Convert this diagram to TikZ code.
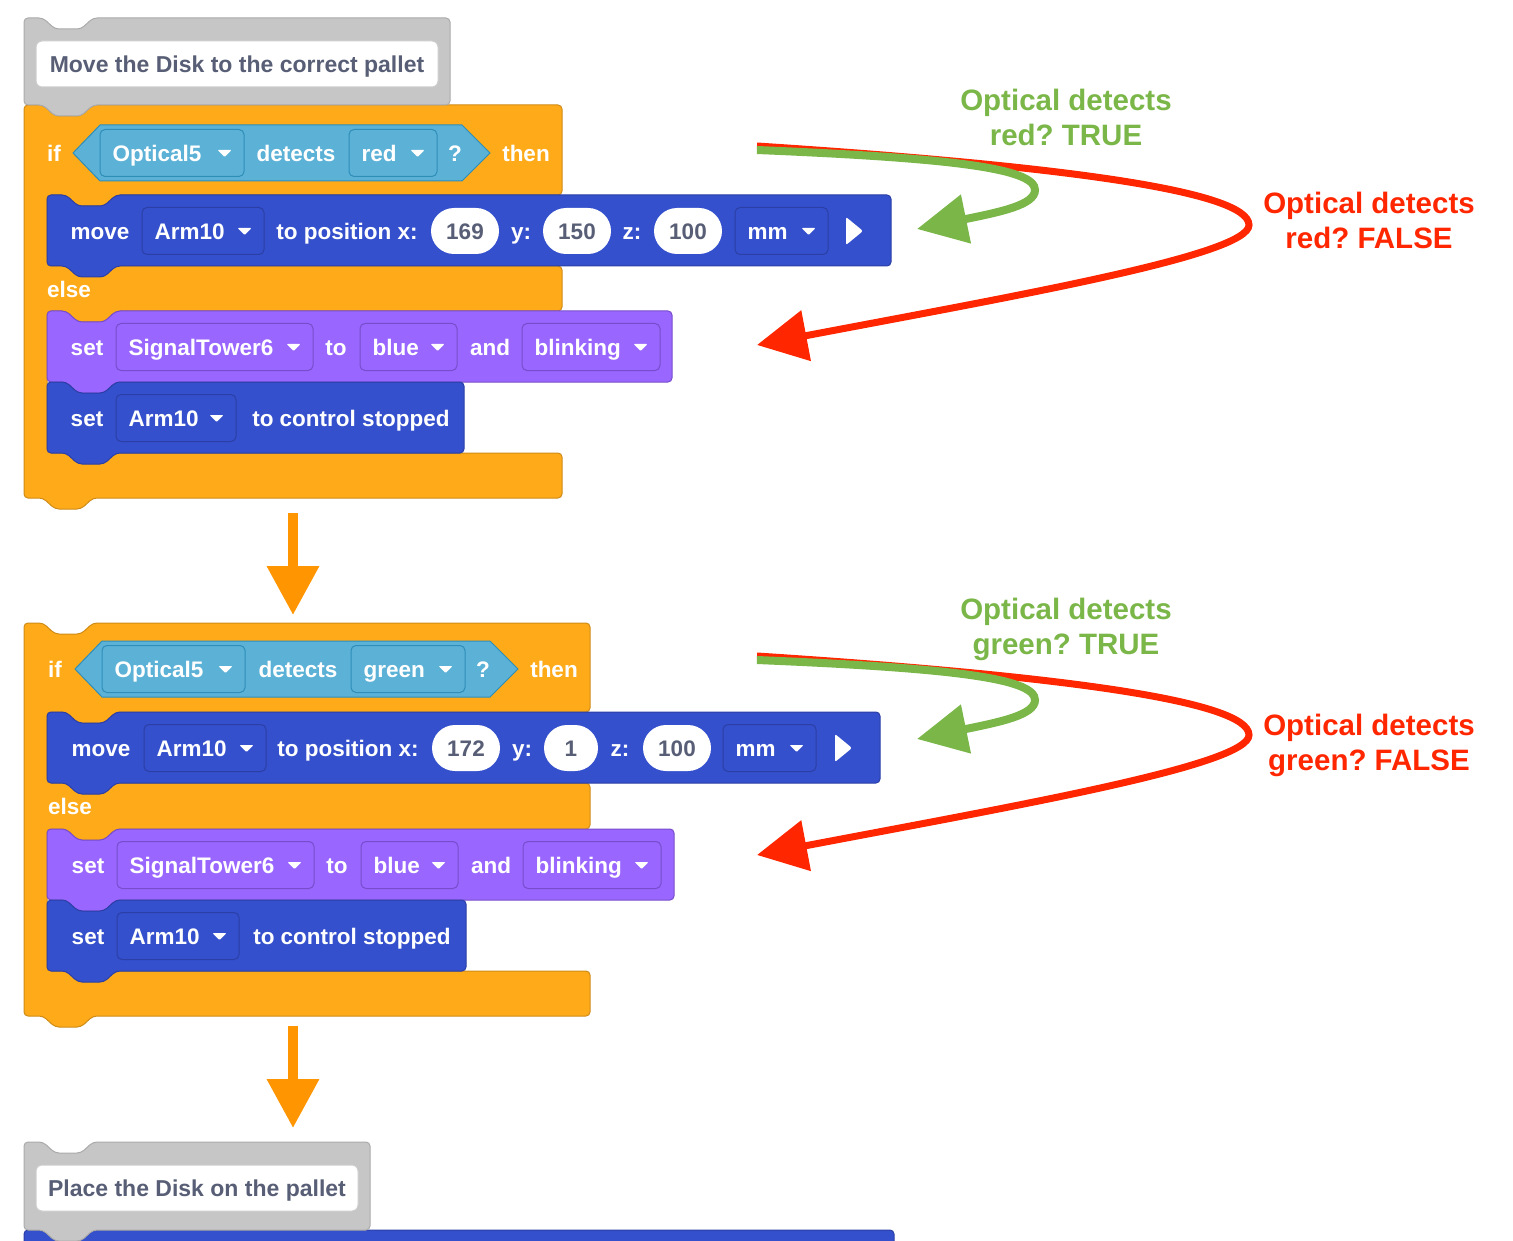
\documentclass[tikz,border=0pt]{standalone}
\usepackage{fontspec}
\setmainfont{Liberation Sans}
\usepackage{tikz}
\usetikzlibrary{arrows.meta}
\frenchspacing

\definecolor{ctrlorange}{HTML}{FFAB19}
\definecolor{ctrledge}{HTML}{CF8B17}
\definecolor{armblue}{HTML}{3450CC}
\definecolor{armedge}{HTML}{2B3FA6}
\definecolor{lookpurple}{HTML}{9966FF}
\definecolor{lookedge}{HTML}{774DCB}
\definecolor{sensecyan}{HTML}{5CB1D6}
\definecolor{senseedge}{HTML}{2E8EB8}
\definecolor{commentgray}{HTML}{C6C6C6}
\definecolor{commentedge}{HTML}{ABABAB}
\definecolor{labelgray}{HTML}{575E75}
\definecolor{flowcolor}{HTML}{FF9500}
\definecolor{truegreen}{HTML}{7AB648}
\definecolor{falsered}{HTML}{FF2600}

\newcommand{\blockfont}{\fontsize{22.5}{27}\selectfont\bfseries}
\newcommand{\labelfont}{\fontsize{23}{27}\selectfont\bfseries}
\newcommand{\notefont}{\fontsize{29.5}{35}\selectfont\bfseries}

% stack block: [colours]{left}{top}{right}{bottom}
\newcommand{\stackblock}[5][]{%
	\draw[block,#1] (#2,#3) -- ++(19,0) -- ++(12,11) -- ++(26,0) -- ++(12,-11) -- (#4,#3) -- (#4,#5) -- ({#2+69},#5) -- ++(-12,11) -- ++(-26,0) -- ++(-12,-11) -- (#2,#5) -- cycle;}

% if/else block: {top}{right}{then}{else top}{else bottom}{foot}{bottom}
\newcommand{\ifelseblock}[7]{%
	\draw[block,ctrl] (24,#1) -- ++(19,0) -- ++(12,11) -- ++(26,0) -- ++(12,-11) -- (#2,#1) -- (#2,#3) -- (116,#3) -- ++(-12,11) -- ++(-26,0) -- ++(-12,-11) -- (47,#3) -- (47,#4) -- (#2,#4) -- (#2,#5) -- (116,#5) -- ++(-12,11) -- ++(-26,0) -- ++(-12,-11) -- (47,#5) -- (47,#6) -- (#2,#6) -- (#2,#7) -- (93,#7) -- ++(-12,11) -- ++(-26,0) -- ++(-12,-11) -- (24,#7) -- cycle;}

% dropdown: [colours]{name}{left}{right}{y}{text}
\newcommand{\dropdown}[6][]{%
	\node[menu,#1,minimum width={#4-#3}] (#2) at ({(#3+#4)/2},#5) {};
	\node[word,anchor=west] (#2txt) at ([xshift=13pt]#2.west) {#6};
	\fill[white,rounded corners=1pt] ([xshift=-27pt,yshift=3pt]#2.east) -- ++(14,0) -- ++(-7,7) -- cycle;}

\begin{document}
\begin{tikzpicture}[x=1pt,y=-1pt,
		block/.style={rounded corners=4pt,line width=1pt},
		ctrl/.style={fill=ctrlorange,draw=ctrledge},
		arm/.style={fill=armblue,draw=armedge},
		look/.style={fill=lookpurple,draw=lookedge},
		sense/.style={fill=sensecyan,draw=senseedge,line width=1pt},
		note/.style={fill=commentgray,draw=commentedge},
		word/.style={text=white,font=\blockfont,inner sep=0pt,text height=16.4pt,text depth=0pt},
		menu/.style={rounded corners=5pt,line width=1pt,minimum height=47pt,inner sep=0pt},
		numbox/.style={word,fill=white,text=labelgray,rounded corners=23pt,minimum height=46pt},
		labelbox/.style={fill=white,draw=commentedge!60,line width=1pt,rounded corners=6pt,minimum height=46pt,inner sep=0pt,text=labelgray,font=\labelfont,text height=16.8pt,text depth=0pt},
		play/.style={fill=white,rounded corners=2pt},
		flow/.style={draw=flowcolor,line width=10pt,-{Triangle[length=49pt,width=50pt]}},
		truearrow/.style={draw=truegreen,line width=8pt,-{Triangle[length=50pt,width=48pt]}},
		falsearrow/.style={draw=falsered,line width=7pt,-{Triangle[length=50pt,width=50pt]}},
		truenote/.style={text=truegreen,font=\notefont,align=center,inner sep=0pt},
		falsenote/.style={text=falsered,font=\notefont,align=center,inner sep=0pt}]
	\useasboundingbox (0,0) rectangle (1513,1241);
	
	% first if/else (red)
	\ifelseblock{105}{562}{195}{266}{311}{453}{498}
	\stackblock[note]{24}{18}{450}{105}
	\node[labelbox,minimum width=402] (titleA) at (237,64) {Move the Disk to the correct pallet};
	\draw[sense] (73,153) -- (100,125) -- (462,125) -- (490,153) -- (462,181) -- (100,181) -- cycle;
	\node[word] (ifA) at (54,153) {if};
	\node[word] (thenA) at (526,153) {then};
	\dropdown[sense]{sensorA}{100}{244}{153}{Optical5}
	\node[word] (detectsA) at (296,153) {detects};
	\dropdown[sense]{colourA}{349}{437}{153}{red}
	\node[word] (askA) at (455,153) {?};
	
	\stackblock[arm]{47}{195}{891}{266}
	\node[word] (moveA) at (100,231) {move};
	\dropdown[arm]{armA}{142}{264}{231}{Arm10}
	\node[word] (posA) at (347,231) {to position x:};
	\foreach \n/\x/\v in {xA/465/169, yA/577/150, zA/688/100}
		\node[numbox,minimum width=68] (\n) at (\x,231) {\v};
	\foreach \n/\x/\t in {ylabA/521/y:, zlabA/632/z:}
		\node[word] (\n) at (\x,231) {\t};
	\dropdown[arm]{unitA}{735}{828}{231}{mm}
	\fill[play] (846,217) -- (863,231) -- (846,245) -- cycle;
	
	\node[word] (elseA) at (69,289) {else};
	\stackblock[look]{47}{311}{672}{382}
	\node[word] (setA) at (87,347) {set};
	\dropdown[look]{towerA}{116}{313}{347}{SignalTower6}
	\node[word] (toA) at (336,347) {to};
	\dropdown[look]{ledA}{360}{457}{347}{blue}
	\node[word] (andA) at (490,347) {and};
	\dropdown[look]{modeA}{522}{660}{347}{blinking}
	\stackblock[arm]{47}{382}{464}{453}
	\node[word] (stopsetA) at (87,418) {set};
	\dropdown[arm]{stoparmA}{116}{236}{418}{Arm10}
	\node[word] (stopA) at (351,418) {to control stopped};
	
	\coordinate (flowA1) at (293,513);
	\coordinate (flowA2) at (293,615);
	\draw[flow] (flowA1) -- (flowA2);
	
	% second if/else (green)
	\ifelseblock{623}{590}{712}{783}{829}{971}{1016}
	\draw[sense] (75,669) -- (102,641) -- (490,641) -- (518,669) -- (490,697) -- (102,697) -- cycle;
	\node[word] (ifB) at (55,669) {if};
	\node[word] (thenB) at (554,669) {then};
	\dropdown[sense]{sensorB}{102}{245}{669}{Optical5}
	\node[word] (detectsB) at (298,669) {detects};
	\dropdown[sense]{colourB}{351}{465}{669}{green}
	\node[word] (askB) at (483,669) {?};
	
	\stackblock[arm]{47}{712}{880}{783}
	\node[word] (moveB) at (101,748) {move};
	\dropdown[arm]{armB}{144}{266}{748}{Arm10}
	\node[word] (posB) at (348,748) {to position x:};
	\foreach \n/\x/\w/\v in {xB/466/68/172, yB/571/54/1, zB/677/68/100}
		\node[numbox,minimum width=\w] (\n) at (\x,748) {\v};
	\foreach \n/\x/\t in {ylabB/522/y:, zlabB/620/z:}
		\node[word] (\n) at (\x,748) {\t};
	\dropdown[arm]{unitB}{723}{816}{748}{mm}
	\fill[play] (835,734) -- (852,748) -- (835,762) -- cycle;
	
	\node[word] (elseB) at (70,806) {else};
	\stackblock[look]{47}{829}{674}{900}
	\node[word] (setB) at (88,865) {set};
	\dropdown[look]{towerB}{117}{314}{865}{SignalTower6}
	\node[word] (toB) at (337,865) {to};
	\dropdown[look]{ledB}{361}{458}{865}{blue}
	\node[word] (andB) at (491,865) {and};
	\dropdown[look]{modeB}{523}{661}{865}{blinking}
	\stackblock[arm]{47}{900}{466}{971}
	\node[word] (stopsetB) at (88,936) {set};
	\dropdown[arm]{stoparmB}{117}{239}{936}{Arm10}
	\node[word] (stopB) at (352,936) {to control stopped};
	
	\coordinate (flowB1) at (293,1026);
	\coordinate (flowB2) at (293,1128);
	\draw[flow] (flowB1) -- (flowB2);
	
	% next comment
	\stackblock[arm]{24}{1230}{894}{1300}
	\stackblock[note]{24}{1142}{370}{1230}
	\node[labelbox,minimum width=322] (titleB) at (197,1188) {Place the Disk on the pallet};
	
	% annotations
	\foreach \k/\dy/\gy/\ry/\c in {A/0/117/220/red, B/510/629/745/green}{
		\coordinate (srcRed\k) at (757,146+\dy);
		\coordinate (turnRed\k) at (1249,225+\dy);
		\coordinate (tipRed\k) at (757,345+\dy);
		\coordinate (srcGreen\k) at (757,150+\dy);
		\coordinate (turnGreen\k) at (1035,190+\dy);
		\coordinate (tipGreen\k) at (917,229+\dy);
		\draw[falsearrow] (srcRed\k) .. controls (1050,165+\dy) and (1249,190+\dy) .. (turnRed\k) .. controls (1249,255+\dy) and (1020,295+\dy) .. (tipRed\k);
		\draw[truearrow] (srcGreen\k) .. controls (950,158+\dy) and (1035,168+\dy) .. (turnGreen\k) .. controls (1035,205+\dy) and (1000,212+\dy) .. (tipGreen\k);
		\node[truenote] (true\k) at (1066,\gy) {Optical detects\\\c? TRUE};
		\node[falsenote] (false\k) at (1369,\ry) {Optical detects\\\c? FALSE};
	}
\end{tikzpicture}
\end{document}
